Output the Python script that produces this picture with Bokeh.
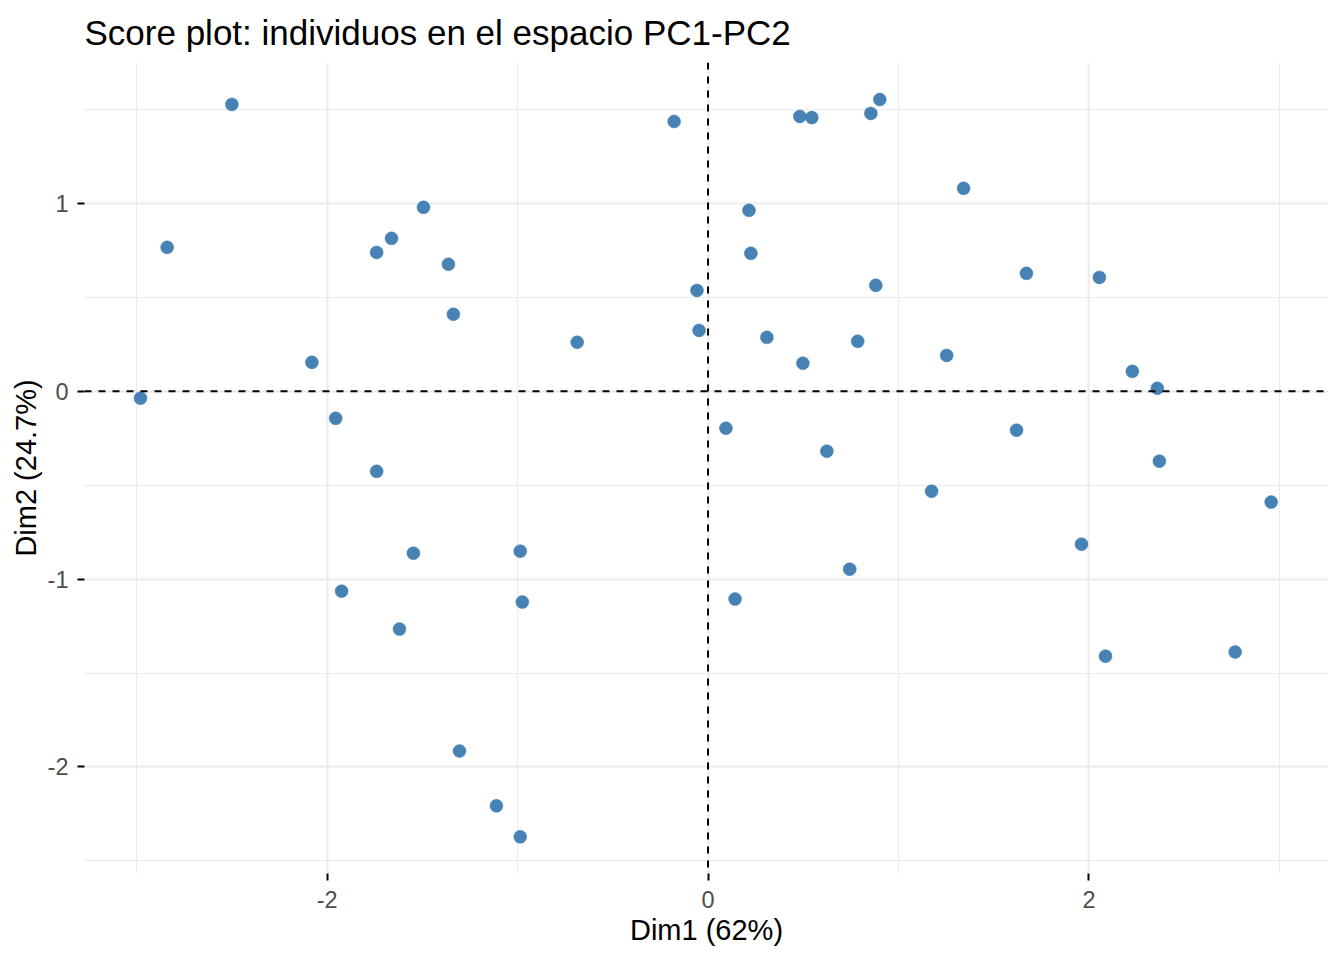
from bokeh.plotting import figure
from bokeh.models import Range1d, FixedTicker, Span, ColumnDataSource, CustomJSTickFormatter
from bokeh.embed import file_html
from bokeh.resources import INLINE

# PCA scores (Dim1, Dim2)
dim1 = [-2.50, -2.84, -2.98, -2.08, -1.955, -1.74, -1.662, -1.494, -1.363, -1.337,
        -1.74, -1.547, -1.924, -1.62, -0.986, -0.975, -1.305, -1.111, -0.986, -0.687,
        -0.178, -0.058, -0.047, 0.215, 0.225, 0.309, 0.094, 0.142, 0.482, 0.545,
        0.498, 0.624, 0.744, 0.786, 0.855, 0.902, 0.881, 1.342, 1.253, 1.174,
        1.672, 1.620, 2.055, 2.228, 2.359, 2.370, 1.961, 2.087, 2.768, 2.957]
dim2 = [1.527, 0.766, -0.037, 0.154, -0.144, 0.739, 0.814, 0.979, 0.676, 0.410,
        -0.426, -0.862, -1.064, -1.266, -0.851, -1.122, -1.915, -2.207, -2.372, 0.261,
        1.436, 0.537, 0.324, 0.963, 0.734, 0.287, -0.197, -1.106, 1.463, 1.457,
        0.149, -0.319, -0.947, 0.266, 1.479, 1.553, 0.564, 1.080, 0.191, -0.532,
        0.628, -0.207, 0.606, 0.106, 0.016, -0.372, -0.814, -1.410, -1.388, -0.590]

x_major = [-2, 0, 2]
x_minor = [-3, -1, 1, 3]
y_major = [-2, -1, 0, 1]
y_minor = [-2.5, -1.5, -0.5, 0.5, 1.5]

title = "Score plot: individuos en el espacio PC1-PC2"
xlab = "Dim1 (62%)"
ylab = "Dim2 (24.7%)"

FONT = "Liberation Sans"

p = figure(width=1344, height=960, output_backend="svg", toolbar_location=None,
           x_range=Range1d(-3.274, 3.258), y_range=Range1d(-2.567, 1.750),
           min_border_left=84, min_border_right=16, min_border_top=62, min_border_bottom=87,
           title=title)
p.outline_line_color = None
p.background_fill_color = "white"
p.border_fill_color = "white"

p.title.text_font = FONT
p.title.text_font_size = "35px"
p.title.text_font_style = "normal"
p.title.text_color = "black"
p.title.align = "left"
p.title.offset = 0
p.title.standoff = 21

p.xaxis.ticker = FixedTicker(ticks=x_major, minor_ticks=x_minor)
p.yaxis.ticker = FixedTicker(ticks=y_major, minor_ticks=y_minor)

for ax in (p.xaxis, p.yaxis):
    ax.formatter = CustomJSTickFormatter(code="return tick.toString();")
    ax.axis_line_color = None
    ax.major_tick_line_color = "black"
    ax.major_tick_line_width = 2
    ax.major_tick_out = 7
    ax.major_tick_in = 0
    ax.minor_tick_line_color = None
    ax.major_label_text_font = FONT
    ax.major_label_text_font_size = "23.5px"
    ax.major_label_text_color = "#4D4D4D"
    ax.axis_label_text_font = FONT
    ax.axis_label_text_font_size = "29px"
    ax.axis_label_text_font_style = "normal"
    ax.axis_label_text_color = "black"

p.xaxis.axis_label = xlab
p.yaxis.axis_label = ylab
p.xaxis.major_label_standoff = 10
p.yaxis.major_label_standoff = 9
p.xaxis.axis_label_standoff = 3
p.yaxis.axis_label_standoff = 3

for g in (p.xgrid, p.ygrid):
    g.grid_line_color = "#EBEBEB"
    g.grid_line_width = 2
    g.minor_grid_line_color = "#EBEBEB"
    g.minor_grid_line_width = 1

p.add_layout(Span(location=0, dimension="height", line_color="black",
                  line_width=2, line_dash="7 7"))
p.add_layout(Span(location=0, dimension="width", line_color="black",
                  line_width=2, line_dash="7 7"))

src = ColumnDataSource(dict(x=dim1, y=dim2))
p.scatter("x", "y", source=src, size=13, fill_color="#4682B4",
          line_color="#4682B4", line_width=0.5)

open("out.html", "w").write(file_html(p, INLINE))
